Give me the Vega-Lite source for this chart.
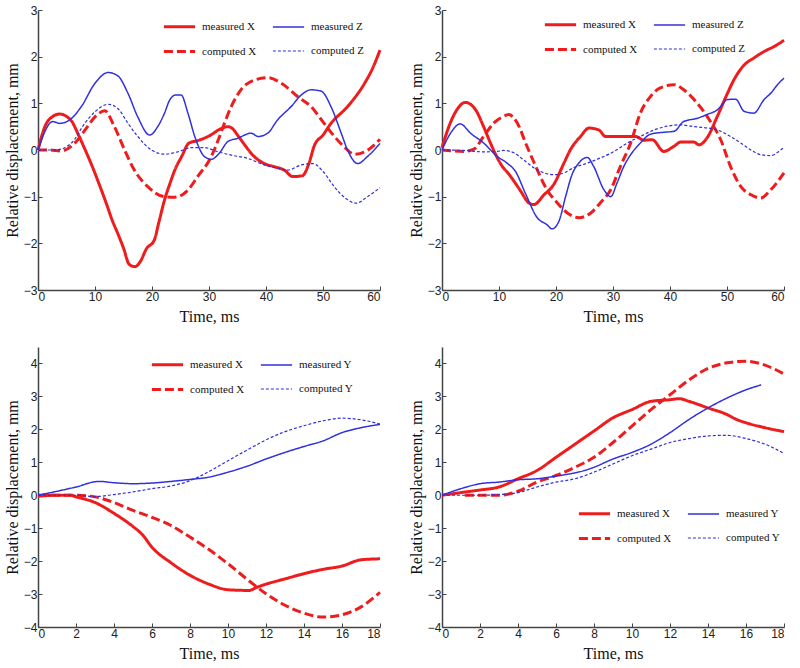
{
  "$schema": "https://vega.github.io/schema/vega-lite/v6.json",
  "autosize": {"type": "pad"},
  "padding": {"left": 4, "top": 4, "right": 4, "bottom": 4},
  "datasets": {
    "p1": [
      {"s":"measured X","t":0,"v":0},{"s":"measured X","t":1.2,"v":0.5},{"s":"measured X","t":2.6,"v":0.72},{"s":"measured X","t":3.8,"v":0.77},{"s":"measured X","t":5,"v":0.72},{"s":"measured X","t":6,"v":0.6},{"s":"measured X","t":7,"v":0.35},{"s":"measured X","t":8,"v":0.08},{"s":"measured X","t":9,"v":-0.2},{"s":"measured X","t":10,"v":-0.5},{"s":"measured X","t":11,"v":-0.82},{"s":"measured X","t":12,"v":-1.15},{"s":"measured X","t":13,"v":-1.5},{"s":"measured X","t":14,"v":-1.79},{"s":"measured X","t":15,"v":-2.1},{"s":"measured X","t":16,"v":-2.45},{"s":"measured X","t":17,"v":-2.5},{"s":"measured X","t":18,"v":-2.38},{"s":"measured X","t":19,"v":-2.12},{"s":"measured X","t":20.4,"v":-1.93},{"s":"measured X","t":21.2,"v":-1.55},{"s":"measured X","t":22.2,"v":-1.07},{"s":"measured X","t":23.2,"v":-0.7},{"s":"measured X","t":24,"v":-0.43},{"s":"measured X","t":25.2,"v":-0.14},{"s":"measured X","t":26.5,"v":0.15},{"s":"measured X","t":28,"v":0.2},{"s":"measured X","t":30,"v":0.3},{"s":"measured X","t":32,"v":0.45},{"s":"measured X","t":33.3,"v":0.5},{"s":"measured X","t":34.2,"v":0.45},{"s":"measured X","t":35,"v":0.32},{"s":"measured X","t":36.2,"v":0.12},{"s":"measured X","t":37.4,"v":-0.07},{"s":"measured X","t":38.5,"v":-0.2},{"s":"measured X","t":39.7,"v":-0.29},{"s":"measured X","t":41.5,"v":-0.36},{"s":"measured X","t":43.2,"v":-0.43},{"s":"measured X","t":44.7,"v":-0.57},{"s":"measured X","t":46.4,"v":-0.55},{"s":"measured X","t":47.5,"v":-0.3},{"s":"measured X","t":48.5,"v":0.1},{"s":"measured X","t":50,"v":0.32},{"s":"measured X","t":51.4,"v":0.57},{"s":"measured X","t":54.3,"v":0.93},{"s":"measured X","t":57.3,"v":1.43},{"s":"measured X","t":58.7,"v":1.75},{"s":"measured X","t":60,"v":2.14},
      {"s":"computed X","t":0,"v":0},{"s":"computed X","t":2,"v":0},{"s":"computed X","t":4,"v":-0.02},{"s":"computed X","t":6.4,"v":0.14},{"s":"computed X","t":8.2,"v":0.42},{"s":"computed X","t":10,"v":0.71},{"s":"computed X","t":11.7,"v":0.84},{"s":"computed X","t":13.4,"v":0.5},{"s":"computed X","t":15.2,"v":0},{"s":"computed X","t":16.9,"v":-0.43},{"s":"computed X","t":19.3,"v":-0.79},{"s":"computed X","t":22.2,"v":-1.0},{"s":"computed X","t":24,"v":-1.01},{"s":"computed X","t":26.3,"v":-0.86},{"s":"computed X","t":28,"v":-0.57},{"s":"computed X","t":30.4,"v":-0.14},{"s":"computed X","t":31.6,"v":0.21},{"s":"computed X","t":32.7,"v":0.57},{"s":"computed X","t":33.9,"v":0.93},{"s":"computed X","t":35.6,"v":1.29},{"s":"computed X","t":38,"v":1.5},{"s":"computed X","t":40.3,"v":1.55},{"s":"computed X","t":42.7,"v":1.43},{"s":"computed X","t":45.6,"v":1.14},{"s":"computed X","t":47.9,"v":0.93},{"s":"computed X","t":50.2,"v":0.57},{"s":"computed X","t":52,"v":0.29},{"s":"computed X","t":53.7,"v":0.07},{"s":"computed X","t":55.5,"v":-0.09},{"s":"computed X","t":57.3,"v":-0.04},{"s":"computed X","t":60,"v":0.23},
      {"s":"measured Z","t":0,"v":0},{"s":"measured Z","t":2.6,"v":0.61},{"s":"measured Z","t":3.8,"v":0.57},{"s":"measured Z","t":5.5,"v":0.64},{"s":"measured Z","t":7.6,"v":0.93},{"s":"measured Z","t":10,"v":1.43},{"s":"measured Z","t":12.3,"v":1.66},{"s":"measured Z","t":14,"v":1.59},{"s":"measured Z","t":15.8,"v":1.21},{"s":"measured Z","t":17.5,"v":0.71},{"s":"measured Z","t":19.6,"v":0.32},{"s":"measured Z","t":21,"v":0.5},{"s":"measured Z","t":22.2,"v":0.79},{"s":"measured Z","t":23.1,"v":1.07},{"s":"measured Z","t":24.2,"v":1.18},{"s":"measured Z","t":25.1,"v":1.18},{"s":"measured Z","t":26.3,"v":0.79},{"s":"measured Z","t":27.5,"v":0.29},{"s":"measured Z","t":29.2,"v":-0.14},{"s":"measured Z","t":30.4,"v":-0.2},{"s":"measured Z","t":31.8,"v":-0.07},{"s":"measured Z","t":33.3,"v":0.18},{"s":"measured Z","t":35,"v":0.25},{"s":"measured Z","t":37.4,"v":0.36},{"s":"measured Z","t":38.6,"v":0.29},{"s":"measured Z","t":40.3,"v":0.36},{"s":"measured Z","t":42,"v":0.64},{"s":"measured Z","t":44.4,"v":0.93},{"s":"measured Z","t":46.2,"v":1.18},{"s":"measured Z","t":47.9,"v":1.29},{"s":"measured Z","t":49.7,"v":1.26},{"s":"measured Z","t":51.4,"v":0.93},{"s":"measured Z","t":53.2,"v":0.36},{"s":"measured Z","t":54.3,"v":0},{"s":"measured Z","t":56.1,"v":-0.29},{"s":"measured Z","t":57.8,"v":-0.14},{"s":"measured Z","t":60,"v":0.14},
      {"s":"computed Z","t":0,"v":0},{"s":"computed Z","t":3,"v":0},{"s":"computed Z","t":5.8,"v":0.14},{"s":"computed Z","t":8.2,"v":0.57},{"s":"computed Z","t":10,"v":0.82},{"s":"computed Z","t":12.3,"v":0.98},{"s":"computed Z","t":14,"v":0.89},{"s":"computed Z","t":15.8,"v":0.57},{"s":"computed Z","t":17.5,"v":0.29},{"s":"computed Z","t":19.9,"v":0},{"s":"computed Z","t":22.2,"v":-0.09},{"s":"computed Z","t":24.5,"v":-0.04},{"s":"computed Z","t":26.9,"v":0.05},{"s":"computed Z","t":29.2,"v":0.05},{"s":"computed Z","t":31.6,"v":-0.04},{"s":"computed Z","t":33.9,"v":-0.11},{"s":"computed Z","t":36.8,"v":-0.18},{"s":"computed Z","t":39.7,"v":-0.32},{"s":"computed Z","t":42,"v":-0.39},{"s":"computed Z","t":43.8,"v":-0.43},{"s":"computed Z","t":46.2,"v":-0.32},{"s":"computed Z","t":48.2,"v":-0.29},{"s":"computed Z","t":50,"v":-0.46},{"s":"computed Z","t":52,"v":-0.79},{"s":"computed Z","t":54,"v":-1.04},{"s":"computed Z","t":55.8,"v":-1.14},{"s":"computed Z","t":57.8,"v":-1.0},{"s":"computed Z","t":60,"v":-0.81}
    ],
    "p2": [
      {"s":"measured X","t":0,"v":0.05},{"s":"measured X","t":1.2,"v":0.5},{"s":"measured X","t":2.6,"v":0.86},{"s":"measured X","t":4.1,"v":1.02},{"s":"measured X","t":5.9,"v":0.86},{"s":"measured X","t":7.3,"v":0.5},{"s":"measured X","t":8.5,"v":0.15},{"s":"measured X","t":10.2,"v":-0.28},{"s":"measured X","t":12,"v":-0.56},{"s":"measured X","t":13.8,"v":-0.88},{"s":"measured X","t":15.2,"v":-1.13},{"s":"measured X","t":16.1,"v":-1.17},{"s":"measured X","t":17.9,"v":-0.96},{"s":"measured X","t":19.6,"v":-0.74},{"s":"measured X","t":21.4,"v":-0.28},{"s":"measured X","t":22.5,"v":0},{"s":"measured X","t":24.3,"v":0.29},{"s":"measured X","t":25.8,"v":0.47},{"s":"measured X","t":27.5,"v":0.43},{"s":"measured X","t":28.7,"v":0.29},{"s":"measured X","t":34,"v":0.29},{"s":"measured X","t":35.4,"v":0.21},{"s":"measured X","t":36.9,"v":0.22},{"s":"measured X","t":38.9,"v":-0.03},{"s":"measured X","t":40.7,"v":0.08},{"s":"measured X","t":41.9,"v":0.17},{"s":"measured X","t":44.2,"v":0.17},{"s":"measured X","t":45.1,"v":0.11},{"s":"measured X","t":46.5,"v":0.26},{"s":"measured X","t":48.3,"v":0.72},{"s":"measured X","t":50.1,"v":1.22},{"s":"measured X","t":51.2,"v":1.5},{"s":"measured X","t":53,"v":1.82},{"s":"measured X","t":54.7,"v":1.97},{"s":"measured X","t":56.5,"v":2.11},{"s":"measured X","t":58.3,"v":2.22},{"s":"measured X","t":60,"v":2.35},
      {"s":"computed X","t":0,"v":0},{"s":"computed X","t":3.8,"v":-0.03},{"s":"computed X","t":5.6,"v":0.02},{"s":"computed X","t":7.3,"v":0.29},{"s":"computed X","t":9.1,"v":0.58},{"s":"computed X","t":10.8,"v":0.72},{"s":"computed X","t":11.7,"v":0.76},{"s":"computed X","t":13.2,"v":0.58},{"s":"computed X","t":14.9,"v":0.08},{"s":"computed X","t":16.7,"v":-0.42},{"s":"computed X","t":18.4,"v":-0.85},{"s":"computed X","t":20.2,"v":-1.13},{"s":"computed X","t":22,"v":-1.35},{"s":"computed X","t":24,"v":-1.45},{"s":"computed X","t":26.1,"v":-1.35},{"s":"computed X","t":27.8,"v":-1.13},{"s":"computed X","t":29.6,"v":-0.85},{"s":"computed X","t":31.3,"v":-0.35},{"s":"computed X","t":33.1,"v":0.15},{"s":"computed X","t":34.8,"v":0.79},{"s":"computed X","t":36.6,"v":1.15},{"s":"computed X","t":38.3,"v":1.33},{"s":"computed X","t":40.7,"v":1.4},{"s":"computed X","t":42.4,"v":1.29},{"s":"computed X","t":44.8,"v":1.0},{"s":"computed X","t":47.1,"v":0.61},{"s":"computed X","t":48.9,"v":0.22},{"s":"computed X","t":50.6,"v":-0.35},{"s":"computed X","t":52.4,"v":-0.78},{"s":"computed X","t":54.2,"v":-0.96},{"s":"computed X","t":55.9,"v":-1.03},{"s":"computed X","t":57.7,"v":-0.85},{"s":"computed X","t":60,"v":-0.49},
      {"s":"measured Z","t":0,"v":0},{"s":"measured Z","t":1.5,"v":0.36},{"s":"measured Z","t":3.2,"v":0.56},{"s":"measured Z","t":5,"v":0.36},{"s":"measured Z","t":7.3,"v":0.15},{"s":"measured Z","t":9.7,"v":-0.14},{"s":"measured Z","t":11.4,"v":-0.28},{"s":"measured Z","t":12.9,"v":-0.46},{"s":"measured Z","t":14.6,"v":-0.92},{"s":"measured Z","t":16.7,"v":-1.45},{"s":"measured Z","t":18.4,"v":-1.6},{"s":"measured Z","t":19.3,"v":-1.69},{"s":"measured Z","t":20.5,"v":-1.53},{"s":"measured Z","t":21.7,"v":-0.99},{"s":"measured Z","t":22.8,"v":-0.53},{"s":"measured Z","t":24,"v":-0.28},{"s":"measured Z","t":25.5,"v":-0.16},{"s":"measured Z","t":26.6,"v":-0.35},{"s":"measured Z","t":28.4,"v":-0.85},{"s":"measured Z","t":29.6,"v":-1.0},{"s":"measured Z","t":30.7,"v":-0.71},{"s":"measured Z","t":31.9,"v":-0.35},{"s":"measured Z","t":33.1,"v":-0.1},{"s":"measured Z","t":34.8,"v":0.15},{"s":"measured Z","t":36.6,"v":0.34},{"s":"measured Z","t":38.9,"v":0.38},{"s":"measured Z","t":40.7,"v":0.4},{"s":"measured Z","t":42.4,"v":0.61},{"s":"measured Z","t":44.8,"v":0.68},{"s":"measured Z","t":46.5,"v":0.76},{"s":"measured Z","t":48.3,"v":0.86},{"s":"measured Z","t":50.1,"v":1.08},{"s":"measured Z","t":51.5,"v":1.09},{"s":"measured Z","t":53,"v":0.83},{"s":"measured Z","t":54.7,"v":0.79},{"s":"measured Z","t":56.5,"v":1.08},{"s":"measured Z","t":57.7,"v":1.22},{"s":"measured Z","t":59,"v":1.42},{"s":"measured Z","t":60,"v":1.54},
      {"s":"computed Z","t":0,"v":0},{"s":"computed Z","t":3.8,"v":-0.01},{"s":"computed Z","t":7.3,"v":-0.04},{"s":"computed Z","t":9.7,"v":-0.03},{"s":"computed Z","t":10.8,"v":-0.01},{"s":"computed Z","t":12.6,"v":-0.06},{"s":"computed Z","t":14.3,"v":-0.21},{"s":"computed Z","t":16.1,"v":-0.38},{"s":"computed Z","t":17.9,"v":-0.49},{"s":"computed Z","t":19.6,"v":-0.53},{"s":"computed Z","t":21.4,"v":-0.49},{"s":"computed Z","t":23.1,"v":-0.38},{"s":"computed Z","t":25.5,"v":-0.28},{"s":"computed Z","t":27.8,"v":-0.17},{"s":"computed Z","t":30.2,"v":-0.03},{"s":"computed Z","t":32.5,"v":0.15},{"s":"computed Z","t":34.8,"v":0.29},{"s":"computed Z","t":37.2,"v":0.43},{"s":"computed Z","t":39.5,"v":0.51},{"s":"computed Z","t":41.9,"v":0.54},{"s":"computed Z","t":43.6,"v":0.51},{"s":"computed Z","t":46,"v":0.48},{"s":"computed Z","t":48.3,"v":0.43},{"s":"computed Z","t":50.6,"v":0.29},{"s":"computed Z","t":52.4,"v":0.15},{"s":"computed Z","t":54.2,"v":0},{"s":"computed Z","t":55.9,"v":-0.1},{"s":"computed Z","t":57.7,"v":-0.12},{"s":"computed Z","t":59.1,"v":-0.03},{"s":"computed Z","t":60,"v":0.06}
    ],
    "p3": [
      {"s":"measured X","t":0,"v":-0.03},{"s":"measured X","t":1,"v":0},{"s":"measured X","t":1.7,"v":0},{"s":"measured X","t":2,"v":-0.05},{"s":"measured X","t":3,"v":-0.22},{"s":"measured X","t":4,"v":-0.55},{"s":"measured X","t":5,"v":-0.95},{"s":"measured X","t":5.5,"v":-1.2},{"s":"measured X","t":6,"v":-1.58},{"s":"measured X","t":7,"v":-2.05},{"s":"measured X","t":8,"v":-2.43},{"s":"measured X","t":9,"v":-2.7},{"s":"measured X","t":10,"v":-2.87},{"s":"measured X","t":11.1,"v":-2.89},{"s":"measured X","t":11.5,"v":-2.8},{"s":"measured X","t":12,"v":-2.7},{"s":"measured X","t":13,"v":-2.54},{"s":"measured X","t":14,"v":-2.38},{"s":"measured X","t":15,"v":-2.25},{"s":"measured X","t":16,"v":-2.15},{"s":"measured X","t":17,"v":-1.96},{"s":"measured X","t":18,"v":-1.93},
      {"s":"computed X","t":0,"v":0},{"s":"computed X","t":2,"v":0},{"s":"computed X","t":3,"v":-0.05},{"s":"computed X","t":4,"v":-0.22},{"s":"computed X","t":5,"v":-0.46},{"s":"computed X","t":6,"v":-0.67},{"s":"computed X","t":7,"v":-0.92},{"s":"computed X","t":8,"v":-1.27},{"s":"computed X","t":9,"v":-1.65},{"s":"computed X","t":10,"v":-2.08},{"s":"computed X","t":11,"v":-2.55},{"s":"computed X","t":12,"v":-2.99},{"s":"computed X","t":13,"v":-3.34},{"s":"computed X","t":14,"v":-3.58},{"s":"computed X","t":15,"v":-3.7},{"s":"computed X","t":16,"v":-3.63},{"s":"computed X","t":17,"v":-3.39},{"s":"computed X","t":18,"v":-2.95},
      {"s":"measured Y","t":0,"v":0},{"s":"measured Y","t":1,"v":0.12},{"s":"measured Y","t":2,"v":0.25},{"s":"measured Y","t":3.2,"v":0.42},{"s":"measured Y","t":4,"v":0.38},{"s":"measured Y","t":5,"v":0.35},{"s":"measured Y","t":6,"v":0.37},{"s":"measured Y","t":7,"v":0.42},{"s":"measured Y","t":8,"v":0.48},{"s":"measured Y","t":9,"v":0.55},{"s":"measured Y","t":10,"v":0.7},{"s":"measured Y","t":11,"v":0.88},{"s":"measured Y","t":12,"v":1.1},{"s":"measured Y","t":13,"v":1.3},{"s":"measured Y","t":14,"v":1.48},{"s":"measured Y","t":15,"v":1.65},{"s":"measured Y","t":16,"v":1.9},{"s":"measured Y","t":17,"v":2.05},{"s":"measured Y","t":18,"v":2.15},
      {"s":"computed Y","t":0,"v":0},{"s":"computed Y","t":2,"v":0},{"s":"computed Y","t":3,"v":-0.04},{"s":"computed Y","t":4,"v":0.02},{"s":"computed Y","t":5,"v":0.1},{"s":"computed Y","t":6,"v":0.2},{"s":"computed Y","t":7,"v":0.28},{"s":"computed Y","t":8,"v":0.44},{"s":"computed Y","t":9,"v":0.72},{"s":"computed Y","t":10,"v":1.05},{"s":"computed Y","t":11,"v":1.37},{"s":"computed Y","t":12,"v":1.68},{"s":"computed Y","t":13,"v":1.93},{"s":"computed Y","t":14,"v":2.11},{"s":"computed Y","t":15,"v":2.26},{"s":"computed Y","t":16,"v":2.34},{"s":"computed Y","t":17,"v":2.29},{"s":"computed Y","t":18,"v":2.16}
    ],
    "p4": [
      {"s":"measured X","t":0,"v":0},{"s":"measured X","t":1,"v":0.08},{"s":"measured X","t":2,"v":0.16},{"s":"measured X","t":3,"v":0.25},{"s":"measured X","t":4,"v":0.5},{"s":"measured X","t":5,"v":0.75},{"s":"measured X","t":6,"v":1.15},{"s":"measured X","t":7,"v":1.55},{"s":"measured X","t":8,"v":1.95},{"s":"measured X","t":9,"v":2.35},{"s":"measured X","t":10,"v":2.6},{"s":"measured X","t":11,"v":2.85},{"s":"measured X","t":12,"v":2.9},{"s":"measured X","t":12.5,"v":2.93},{"s":"measured X","t":13,"v":2.85},{"s":"measured X","t":14,"v":2.65},{"s":"measured X","t":15,"v":2.45},{"s":"measured X","t":15.5,"v":2.3},{"s":"measured X","t":16,"v":2.2},{"s":"measured X","t":17,"v":2.05},{"s":"measured X","t":18,"v":1.93},
      {"s":"computed X","t":1.2,"v":0},{"s":"computed X","t":2,"v":0},{"s":"computed X","t":3,"v":0},{"s":"computed X","t":4,"v":0.12},{"s":"computed X","t":5,"v":0.4},{"s":"computed X","t":6,"v":0.6},{"s":"computed X","t":7,"v":0.85},{"s":"computed X","t":8,"v":1.15},{"s":"computed X","t":9,"v":1.6},{"s":"computed X","t":10,"v":2.1},{"s":"computed X","t":11,"v":2.6},{"s":"computed X","t":12,"v":3.05},{"s":"computed X","t":13,"v":3.5},{"s":"computed X","t":14,"v":3.85},{"s":"computed X","t":15,"v":4.02},{"s":"computed X","t":16,"v":4.07},{"s":"computed X","t":17,"v":3.95},{"s":"computed X","t":18,"v":3.68},
      {"s":"measured Y","t":0,"v":0},{"s":"measured Y","t":1,"v":0.2},{"s":"measured Y","t":2,"v":0.35},{"s":"measured Y","t":3,"v":0.4},{"s":"measured Y","t":4,"v":0.47},{"s":"measured Y","t":5,"v":0.5},{"s":"measured Y","t":6,"v":0.58},{"s":"measured Y","t":7,"v":0.68},{"s":"measured Y","t":7.5,"v":0.75},{"s":"measured Y","t":8,"v":0.85},{"s":"measured Y","t":9,"v":1.1},{"s":"measured Y","t":10,"v":1.3},{"s":"measured Y","t":11,"v":1.55},{"s":"measured Y","t":12,"v":1.9},{"s":"measured Y","t":13,"v":2.3},{"s":"measured Y","t":14,"v":2.65},{"s":"measured Y","t":15,"v":2.95},{"s":"measured Y","t":16,"v":3.2},{"s":"measured Y","t":16.8,"v":3.35},
      {"s":"computed Y","t":0,"v":0},{"s":"computed Y","t":2,"v":0},{"s":"computed Y","t":3,"v":0.02},{"s":"computed Y","t":4,"v":0.08},{"s":"computed Y","t":5,"v":0.25},{"s":"computed Y","t":6,"v":0.4},{"s":"computed Y","t":7,"v":0.5},{"s":"computed Y","t":8,"v":0.7},{"s":"computed Y","t":9,"v":0.95},{"s":"computed Y","t":10,"v":1.2},{"s":"computed Y","t":11,"v":1.4},{"s":"computed Y","t":12,"v":1.6},{"s":"computed Y","t":13,"v":1.72},{"s":"computed Y","t":14,"v":1.8},{"s":"computed Y","t":15,"v":1.82},{"s":"computed Y","t":16,"v":1.72},{"s":"computed Y","t":17,"v":1.55},{"s":"computed Y","t":18,"v":1.27}
    ]
  },
  "columns": 2,
  "spacing": {"row": 57, "column": 62},
  "bounds": "flush",
  "resolve": {"scale": {"color": "independent", "strokeDash": "independent", "strokeWidth": "independent", "x": "independent", "y": "independent"}, "legend": {"color": "independent", "strokeDash": "independent", "strokeWidth": "independent"}},
  "concat": [
    {
      "data": {"name": "p1"},
      "width": 342, "height": 280,
      "mark": {"type": "line", "interpolate": "monotone"},
      "encoding": {
        "x": {"field": "t", "type": "quantitative", "scale": {"domain": [0, 60], "nice": false}, "axis": {"values": [0, 10, 20, 30, 40, 50, 60], "title": "Time, ms"}},
        "y": {"field": "v", "type": "quantitative", "scale": {"domain": [-3, 3], "nice": false}, "axis": {"values": [-3, -2, -1, 0, 1, 2, 3], "title": "Relative displacement, mm"}},
        "color": {"field": "s", "type": "nominal", "scale": {"domain": ["measured X", "computed X", "measured Z", "computed Z"], "range": ["#ee1c1c", "#ee1c1c", "#3030dd", "#3030dd"]}, "legend": {"title": null, "legendX": 127, "legendY": 2}},
        "strokeDash": {"field": "s", "type": "nominal", "scale": {"domain": ["measured X", "computed X", "measured Z", "computed Z"], "range": [[1, 0], [9, 4], [1, 0], [3, 2]]}, "legend": {"title": null, "legendX": 127, "legendY": 2}},
        "strokeWidth": {"field": "s", "type": "nominal", "scale": {"type": "ordinal", "domain": ["measured X", "computed X", "measured Z", "computed Z"], "range": [3, 3, 1.5, 1.2]}, "legend": {"title": null, "legendX": 127, "legendY": 2}}
      }
    },
    {
      "data": {"name": "p2"},
      "width": 342, "height": 280,
      "mark": {"type": "line", "interpolate": "monotone"},
      "encoding": {
        "x": {"field": "t", "type": "quantitative", "scale": {"domain": [0, 60], "nice": false}, "axis": {"values": [0, 10, 20, 30, 40, 50, 60], "title": "Time, ms"}},
        "y": {"field": "v", "type": "quantitative", "scale": {"domain": [-3, 3], "nice": false}, "axis": {"values": [-3, -2, -1, 0, 1, 2, 3], "title": "Relative displacement, mm"}},
        "color": {"field": "s", "type": "nominal", "scale": {"domain": ["measured X", "computed X", "measured Z", "computed Z"], "range": ["#ee1c1c", "#ee1c1c", "#3030dd", "#3030dd"]}, "legend": {"title": null, "legendX": 104, "legendY": 0}},
        "strokeDash": {"field": "s", "type": "nominal", "scale": {"domain": ["measured X", "computed X", "measured Z", "computed Z"], "range": [[1, 0], [9, 4], [1, 0], [3, 2]]}, "legend": {"title": null, "legendX": 104, "legendY": 0}},
        "strokeWidth": {"field": "s", "type": "nominal", "scale": {"type": "ordinal", "domain": ["measured X", "computed X", "measured Z", "computed Z"], "range": [3, 3, 1.5, 1.2]}, "legend": {"title": null, "legendX": 104, "legendY": 0}}
      }
    },
    {
      "data": {"name": "p3"},
      "width": 342, "height": 280,
      "mark": {"type": "line", "interpolate": "monotone"},
      "encoding": {
        "x": {"field": "t", "type": "quantitative", "scale": {"domain": [0, 18], "nice": false}, "axis": {"values": [0, 2, 4, 6, 8, 10, 12, 14, 16, 18], "title": "Time, ms"}},
        "y": {"field": "v", "type": "quantitative", "scale": {"domain": [-4, 4.5], "nice": false}, "axis": {"values": [-4, -3, -2, -1, 0, 1, 2, 3, 4], "title": "Relative displacement, mm"}},
        "color": {"field": "s", "type": "nominal", "scale": {"domain": ["measured X", "computed X", "measured Y", "computed Y"], "range": ["#ee1c1c", "#ee1c1c", "#3030dd", "#3030dd"]}, "legend": {"title": null, "legendX": 115, "legendY": 3}},
        "strokeDash": {"field": "s", "type": "nominal", "scale": {"domain": ["measured X", "computed X", "measured Y", "computed Y"], "range": [[1, 0], [9, 4], [1, 0], [3, 2]]}, "legend": {"title": null, "legendX": 115, "legendY": 3}},
        "strokeWidth": {"field": "s", "type": "nominal", "scale": {"type": "ordinal", "domain": ["measured X", "computed X", "measured Y", "computed Y"], "range": [3, 3, 1.5, 1.2]}, "legend": {"title": null, "legendX": 115, "legendY": 3}}
      }
    },
    {
      "data": {"name": "p4"},
      "width": 342, "height": 280,
      "mark": {"type": "line", "interpolate": "monotone"},
      "encoding": {
        "x": {"field": "t", "type": "quantitative", "scale": {"domain": [0, 18], "nice": false}, "axis": {"values": [0, 2, 4, 6, 8, 10, 12, 14, 16, 18], "title": "Time, ms"}},
        "y": {"field": "v", "type": "quantitative", "scale": {"domain": [-4, 4.5], "nice": false}, "axis": {"values": [-4, -3, -2, -1, 0, 1, 2, 3, 4], "title": "Relative displacement, mm"}},
        "color": {"field": "s", "type": "nominal", "scale": {"domain": ["measured X", "computed X", "measured Y", "computed Y"], "range": ["#ee1c1c", "#ee1c1c", "#3030dd", "#3030dd"]}, "legend": {"title": null, "legendX": 138, "legendY": 152}},
        "strokeDash": {"field": "s", "type": "nominal", "scale": {"domain": ["measured X", "computed X", "measured Y", "computed Y"], "range": [[1, 0], [9, 4], [1, 0], [3, 2]]}, "legend": {"title": null, "legendX": 138, "legendY": 152}},
        "strokeWidth": {"field": "s", "type": "nominal", "scale": {"type": "ordinal", "domain": ["measured X", "computed X", "measured Y", "computed Y"], "range": [3, 3, 1.5, 1.2]}, "legend": {"title": null, "legendX": 138, "legendY": 152}}
      }
    }
  ],
  "config": {
    "view": {"stroke": null},
    "axis": {"grid": false, "domainColor": "#444444", "domainWidth": 1.5, "tickColor": "#444444", "tickSize": -4, "tickWidth": 1, "labelPadding": 5, "labelFont": "Liberation Sans", "labelFontSize": 12, "labelColor": "#222222", "titleFont": "Liberation Serif", "titleFontSize": 16, "titleFontWeight": "normal", "titleColor": "#111111", "titlePadding": 3},
    "axisX": {"titlePadding": 6},
    "legend": {"orient": "none", "columns": 2, "symbolType": "M-1.2,0H1.2", "symbolSize": 676, "labelFont": "Liberation Serif", "labelFontSize": 11, "labelColor": "#111111", "labelOffset": 8, "columnPadding": 12, "rowPadding": 4, "padding": 0}
  }
}
